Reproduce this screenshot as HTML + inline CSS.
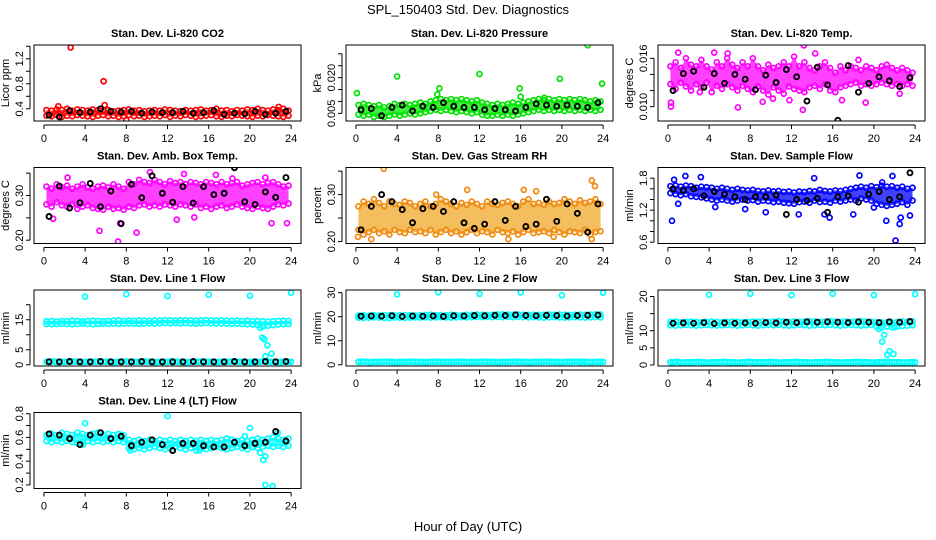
<!DOCTYPE html>
<html><head><meta charset="utf-8"><title>SPL_150403 Std. Dev. Diagnostics</title>
<style>
html,body{margin:0;padding:0;background:#fff;}
svg{display:block;font-family:"Liberation Sans",sans-serif;}
</style></head>
<body>
<svg id="chart" width="936" height="540" viewBox="0 0 936 540" xmlns="http://www.w3.org/2000/svg">
<text x="468" y="14" font-size="13" text-anchor="middle">SPL_150403  Std. Dev. Diagnostics</text>
<text x="468" y="531" font-size="13" text-anchor="middle">Hour of Day (UTC)</text>
</svg>
<script>
const hours48=[0.25,0.75,1.25,1.75,2.25,2.75,3.25,3.75,4.25,4.75,5.25,5.75,6.25,6.75,7.25,7.75,8.25,8.75,9.25,9.75,10.25,10.75,11.25,11.75,12.25,12.75,13.25,13.75,14.25,14.75,15.25,15.75,16.25,16.75,17.25,17.75,18.25,18.75,19.25,19.75,20.25,20.75,21.25,21.75,22.25,22.75,23.25,23.75];
const hours24=[0.5,1.5,2.5,3.5,4.5,5.5,6.5,7.5,8.5,9.5,10.5,11.5,12.5,13.5,14.5,15.5,16.5,17.5,18.5,19.5,20.5,21.5,22.5,23.5];
const xTicks=[0,4,8,12,16,20,24];

const p1Hi=[0.38,0.37,0.39,0.38,0.40,0.37,0.39,0.38,0.37,0.39,0.38,0.37,0.38,0.36,0.37,0.38,0.39,0.37,0.38,0.36,0.37,0.38,0.37,0.39,0.38,0.37,0.36,0.38,0.37,0.38,0.39,0.37,0.38,0.40,0.37,0.38,0.36,0.38,0.37,0.39,0.38,0.40,0.38,0.37,0.39,0.38,0.40,0.37];
const p1Lo=[0.29,0.28,0.30,0.27,0.29,0.28,0.30,0.29,0.28,0.27,0.29,0.30,0.28,0.29,0.27,0.28,0.30,0.28,0.29,0.27,0.28,0.29,0.28,0.30,0.27,0.29,0.28,0.30,0.29,0.27,0.28,0.29,0.30,0.28,0.27,0.29,0.28,0.30,0.29,0.28,0.27,0.29,0.28,0.30,0.29,0.28,0.27,0.29];
const p1OutX=[2.6,5.8,5.9,1.4,8.0,22.8];
const p1OutY=[1.38,0.84,0.46,0.44,0.22,0.43];
const p1Blk=[0.30,0.27,0.37,0.34,0.35,0.40,0.36,0.35,0.36,0.33,0.35,0.34,0.34,0.36,0.33,0.34,0.37,0.31,0.33,0.32,0.36,0.31,0.33,0.36];

const p2Hi=[0.0085,0.0090,0.0085,0.0080,0.0085,0.0075,0.0080,0.0090,0.0085,0.0090,0.0085,0.0090,0.0095,0.0090,0.0100,0.0105,0.0110,0.0105,0.0110,0.0105,0.0110,0.0105,0.0100,0.0105,0.0095,0.0090,0.0085,0.0090,0.0085,0.0090,0.0095,0.0090,0.0095,0.0100,0.0105,0.0110,0.0105,0.0110,0.0105,0.0110,0.0105,0.0110,0.0105,0.0110,0.0105,0.0100,0.0105,0.0100];
const p2Lo=[0.0045,0.0040,0.0045,0.0035,0.0040,0.0035,0.0040,0.0045,0.0040,0.0045,0.0050,0.0045,0.0050,0.0055,0.0060,0.0065,0.0060,0.0065,0.0060,0.0055,0.0060,0.0055,0.0050,0.0055,0.0045,0.0040,0.0040,0.0045,0.0040,0.0045,0.0040,0.0045,0.0050,0.0055,0.0060,0.0065,0.0060,0.0065,0.0060,0.0065,0.0060,0.0065,0.0060,0.0065,0.0060,0.0065,0.0060,0.0065];
const p2OutX=[0.1,4.0,7.9,8.1,12.0,15.9,16.0,19.8,22.5,23.9,18.3];
const p2OutY=[0.0135,0.0205,0.0130,0.0155,0.0215,0.0155,0.0120,0.0195,0.0336,0.0175,0.0115];
const p2Blk=[0.0065,0.0070,0.0040,0.0075,0.0085,0.0060,0.0080,0.0075,0.0095,0.0080,0.0075,0.0075,0.0065,0.0070,0.0065,0.0060,0.0075,0.0090,0.0085,0.0080,0.0085,0.0080,0.0075,0.0095];

const p3Hi=[0.0150,0.0155,0.0148,0.0160,0.0152,0.0150,0.0158,0.0150,0.0146,0.0155,0.0150,0.0160,0.0152,0.0148,0.0155,0.0150,0.0160,0.0150,0.0145,0.0152,0.0148,0.0150,0.0155,0.0150,0.0162,0.0150,0.0155,0.0148,0.0145,0.0150,0.0155,0.0148,0.0142,0.0150,0.0145,0.0150,0.0148,0.0145,0.0150,0.0148,0.0145,0.0150,0.0152,0.0148,0.0145,0.0148,0.0145,0.0142];
const p3Lo=[0.0128,0.0122,0.0130,0.0125,0.0120,0.0128,0.0124,0.0130,0.0118,0.0126,0.0122,0.0128,0.0124,0.0120,0.0126,0.0122,0.0118,0.0125,0.0120,0.0115,0.0124,0.0120,0.0116,0.0125,0.0122,0.0120,0.0118,0.0124,0.0126,0.0122,0.0128,0.0120,0.0118,0.0124,0.0126,0.0128,0.0130,0.0126,0.0128,0.0126,0.0128,0.0130,0.0128,0.0126,0.0128,0.0126,0.0128,0.0126];
const p3OutX=[0.3,0.3,6.8,13.1,13.2,1.0,5.8,10.2,11.8,14.3,16.9,18.5,19.2,3.1,22.5,4.5,9.2];
const p3OutY=[0.0105,0.0100,0.0099,0.0096,0.0176,0.0167,0.0166,0.0110,0.0108,0.0166,0.0108,0.0158,0.0105,0.0118,0.0116,0.0167,0.0106];
const p3Blk=[0.0120,0.0141,0.0144,0.0124,0.0141,0.0129,0.0140,0.0134,0.0121,0.0139,0.0130,0.0146,0.0137,0.0107,0.0149,0.0127,0.0083,0.0151,0.0118,0.0129,0.0137,0.0132,0.0125,0.0136];

const p4Hi=[0.320,0.315,0.325,0.318,0.322,0.315,0.320,0.325,0.318,0.315,0.320,0.322,0.318,0.325,0.320,0.315,0.330,0.325,0.335,0.330,0.328,0.335,0.330,0.325,0.332,0.328,0.330,0.325,0.330,0.328,0.325,0.330,0.328,0.325,0.330,0.325,0.328,0.330,0.322,0.325,0.328,0.330,0.325,0.328,0.330,0.325,0.320,0.322];
const p4Lo=[0.280,0.275,0.285,0.278,0.275,0.280,0.270,0.275,0.278,0.272,0.270,0.268,0.275,0.270,0.272,0.268,0.275,0.272,0.278,0.280,0.275,0.278,0.275,0.280,0.278,0.275,0.280,0.278,0.275,0.280,0.272,0.275,0.270,0.275,0.278,0.272,0.275,0.280,0.275,0.272,0.270,0.275,0.272,0.270,0.275,0.280,0.278,0.282];
const p4OutX=[5.4,7.2,9.0,10.3,13.6,7.4,12.9,16.7,22.1,23.6,2.3,0.9,14.6,18.3,21.5];
const p4OutY=[0.221,0.197,0.217,0.352,0.348,0.238,0.246,0.346,0.238,0.238,0.340,0.248,0.251,0.338,0.340];
const p4Blk=[0.253,0.321,0.272,0.284,0.327,0.275,0.310,0.237,0.325,0.295,0.344,0.305,0.285,0.320,0.283,0.320,0.302,0.305,0.362,0.286,0.280,0.308,0.296,0.340];

const p5Hi=[0.275,0.285,0.280,0.290,0.282,0.275,0.285,0.280,0.278,0.285,0.282,0.275,0.280,0.285,0.275,0.280,0.290,0.285,0.280,0.275,0.282,0.278,0.285,0.280,0.275,0.285,0.280,0.278,0.282,0.285,0.280,0.275,0.285,0.290,0.280,0.282,0.278,0.285,0.280,0.282,0.290,0.285,0.280,0.288,0.282,0.285,0.290,0.280];
const p5Lo=[0.225,0.215,0.220,0.225,0.218,0.222,0.215,0.225,0.220,0.218,0.225,0.220,0.222,0.218,0.225,0.215,0.220,0.225,0.218,0.222,0.215,0.220,0.225,0.218,0.222,0.220,0.215,0.225,0.220,0.218,0.222,0.215,0.220,0.225,0.218,0.220,0.222,0.218,0.225,0.220,0.215,0.222,0.220,0.218,0.225,0.215,0.220,0.222];
const p5OutX=[2.7,10.8,22.9,22.9,0.2,1.5,16.3,17.5,23.2,7.8,19.2,14.8];
const p5OutY=[0.355,0.310,0.330,0.205,0.210,0.205,0.310,0.307,0.318,0.300,0.210,0.205];
const p5Blk=[0.225,0.275,0.300,0.285,0.268,0.240,0.270,0.275,0.264,0.285,0.240,0.228,0.237,0.285,0.245,0.275,0.232,0.237,0.290,0.243,0.280,0.260,0.220,0.280];

const p6Hi=[1.65,1.66,1.64,1.66,1.65,1.62,1.64,1.63,1.62,1.60,1.62,1.60,1.58,1.60,1.58,1.57,1.58,1.56,1.55,1.57,1.55,1.56,1.54,1.55,1.53,1.55,1.54,1.56,1.55,1.58,1.56,1.55,1.57,1.56,1.58,1.60,1.62,1.64,1.62,1.65,1.63,1.66,1.64,1.65,1.62,1.64,1.60,1.62];
const p6Lo=[1.52,1.50,1.48,1.50,1.46,1.45,1.44,1.42,1.40,1.38,1.40,1.38,1.36,1.38,1.40,1.38,1.39,1.36,1.38,1.37,1.35,1.36,1.34,1.33,1.32,1.35,1.36,1.34,1.38,1.35,1.36,1.34,1.38,1.36,1.38,1.40,1.38,1.42,1.40,1.38,1.32,1.30,1.28,1.30,1.32,1.35,1.30,1.38];
const p6OutX=[0.4,0.6,1.7,3.2,9.5,14.2,18.6,21.2,22.1,22.5,21.8,15.2,15.7,12.7,18.0,20.8,23.5,1.0,4.6,7.5,22.6,20.0];
const p6OutY=[1.00,1.77,1.84,1.82,1.16,1.80,1.85,1.00,0.63,0.94,1.84,1.12,1.06,1.12,1.12,1.72,1.10,1.32,1.26,1.22,1.06,1.25];
const p6Blk=[1.60,1.57,1.60,1.47,1.55,1.50,1.45,1.40,1.45,1.45,1.48,1.12,1.40,1.38,1.42,1.16,1.45,1.47,1.35,1.50,1.55,1.40,1.45,1.90];

const p7Hi=[14.5,14.6,14.4,14.6,14.5,14.7,14.6,14.5,14.6,14.7,14.6,14.5,14.6,14.7,14.8,14.6,14.7,14.6,14.8,14.7,14.6,14.8,14.7,14.9,14.8,14.7,14.8,14.9,14.8,14.7,14.8,14.9,14.8,14.7,14.8,14.7,14.6,14.7,14.6,14.7,14.5,14.6,14.5,14.4,14.5,14.6,14.7,14.6];
const p7Lo=[13.6,13.5,13.6,13.7,13.6,13.5,13.6,13.7,13.6,13.5,13.6,13.7,13.6,13.7,13.6,13.7,13.8,13.7,13.6,13.7,13.8,13.7,13.8,13.9,13.8,13.9,13.8,13.9,13.8,13.7,13.8,13.9,13.8,13.7,13.8,13.7,13.6,13.7,13.6,13.5,13.4,13.2,12.8,13.0,13.2,13.4,13.5,13.6];
const p7Base=[1.0,1.1,0.9,1.0,1.0,1.1,1.0,0.9,1.0,1.0,1.1,1.0,1.0,0.9,1.0,1.1,1.0,1.0,1.0,1.1,1.0,0.9,1.0,1.0,1.1,1.0,1.0,0.9,1.0,1.0,1.1,1.0,1.0,0.9,1.0,1.0,1.1,1.0,1.0,0.9,1.0,1.0,1.1,1.0,1.0,0.9,1.0,1.0];
const p7OutX=[4,8,12,16,20,24,21.0,21.2,21.4,21.7,21.5,22.1,20.3];
const p7OutY=[22.7,23.5,22.9,23.3,23.0,24.0,12.3,9.0,8.5,6.5,2.8,3.7,0.2];
const p7Blk=[1.0,1.0,1.1,1.0,1.0,1.1,1.0,1.0,1.0,1.1,1.0,1.0,1.0,1.0,1.1,1.0,1.0,1.0,1.1,1.0,1.0,1.1,1.0,1.1];

const p8Hi=[20.5,20.6,20.4,20.6,20.5,20.7,20.6,20.5,20.6,20.7,20.6,20.5,20.6,20.7,20.8,20.6,20.7,20.6,20.8,20.7,20.6,20.8,20.7,20.9,20.8,20.7,20.8,20.9,21.0,20.9,20.8,20.9,20.8,20.7,20.8,20.7,20.8,20.9,20.8,20.9,20.8,20.7,20.8,20.9,20.8,20.9,21.0,20.9];
const p8Lo=[19.6,19.5,19.6,19.7,19.6,19.5,19.4,19.7,19.6,19.5,19.6,19.7,19.6,19.7,19.6,19.7,19.8,19.7,19.6,19.7,19.8,19.7,19.8,19.9,19.8,19.9,19.8,19.9,19.8,19.9,19.8,19.9,19.8,19.7,19.8,19.7,19.6,19.7,19.8,19.7,19.6,19.7,19.8,19.7,19.6,19.7,19.8,19.7];
const p8Base=[1.2,1.3,1.1,1.2,1.2,1.3,1.2,1.1,1.2,1.2,1.3,1.2,1.2,1.1,1.2,1.3,1.2,1.2,1.2,1.3,1.2,1.1,1.2,1.2,1.3,1.2,1.2,1.1,1.2,1.2,1.3,1.2,1.2,1.1,1.2,1.2,1.3,1.2,1.2,1.1,1.2,1.2,1.3,1.2,1.2,1.1,1.2,1.2];
const p8OutX=[4,8,12,16,20,24,22.0];
const p8OutY=[29.3,30.2,29.5,30.1,28.9,30.0,0.1];
const p8Blk=[20.2,20.3,20.2,20.4,20.1,20.3,20.2,20.3,20.1,20.4,20.3,20.5,20.4,20.6,20.5,20.8,20.5,20.4,20.6,20.5,20.3,20.5,20.6,20.7];

const p9Hi=[12.6,12.7,12.5,12.6,12.7,12.6,12.5,12.6,12.7,12.6,12.5,12.6,12.7,12.6,12.5,12.6,12.7,12.6,12.7,12.6,12.7,12.8,12.7,12.6,12.7,12.6,12.7,12.8,12.7,12.6,12.7,12.8,12.7,12.6,12.7,12.6,12.7,12.8,12.7,12.6,12.5,12.4,12.5,12.4,12.6,12.7,12.6,12.7];
const p9Lo=[11.6,11.5,11.6,11.7,11.6,11.5,11.6,11.7,11.6,11.5,11.6,11.7,11.6,11.5,11.6,11.7,11.6,11.5,11.6,11.7,11.6,11.7,11.6,11.5,11.6,11.7,11.6,11.5,11.6,11.7,11.6,11.7,11.6,11.5,11.6,11.7,11.6,11.5,11.6,11.7,11.2,11.0,11.2,11.0,11.2,11.4,11.5,11.6];
const p9Base=[0.8,0.9,0.7,0.8,0.8,0.9,0.8,0.7,0.8,0.8,0.9,0.8,0.8,0.7,0.8,0.9,0.8,0.8,0.8,0.9,0.8,0.7,0.8,0.8,0.9,0.8,0.8,0.7,0.8,0.8,0.9,0.8,0.8,0.7,0.8,0.8,0.9,0.8,0.8,0.7,0.8,0.8,0.9,0.8,0.8,0.7,0.8,0.8];
const p9OutX=[4,8,12,16,20,24,20.5,20.8,21.0,21.3,21.5,21.9,22.0,20.1];
const p9OutY=[20.5,20.8,20.4,20.8,20.4,20.7,10.5,6.8,8.8,3.0,4.0,3.2,11.0,0.1];
const p9Blk=[12.2,12.3,12.2,12.4,12.1,12.3,12.2,12.3,12.2,12.4,12.3,12.5,12.4,12.6,12.5,12.6,12.5,12.4,12.6,12.5,12.4,12.6,12.5,12.7];

const p10Hi=[0.62,0.63,0.62,0.64,0.63,0.62,0.64,0.63,0.62,0.63,0.64,0.62,0.63,0.62,0.63,0.62,0.58,0.57,0.58,0.57,0.58,0.57,0.58,0.57,0.58,0.57,0.58,0.57,0.58,0.57,0.58,0.57,0.58,0.57,0.58,0.59,0.58,0.57,0.58,0.57,0.58,0.59,0.58,0.59,0.60,0.59,0.58,0.59];
const p10Lo=[0.57,0.56,0.57,0.56,0.57,0.56,0.55,0.56,0.57,0.56,0.57,0.56,0.57,0.56,0.57,0.56,0.51,0.50,0.51,0.50,0.51,0.52,0.51,0.50,0.51,0.52,0.51,0.50,0.51,0.52,0.51,0.50,0.51,0.52,0.51,0.50,0.51,0.52,0.51,0.50,0.52,0.51,0.52,0.53,0.52,0.53,0.52,0.53];
const p10OutX=[4,12,20,21.5,22.2,21.3,21.5,21.0,14.8,15.1,8.4,3.8,19.5,22.7];
const p10OutY=[0.72,0.78,0.68,0.20,0.19,0.41,0.44,0.47,0.49,0.49,0.49,0.54,0.61,0.64];
const p10Blk=[0.63,0.62,0.59,0.54,0.62,0.64,0.59,0.61,0.53,0.56,0.58,0.54,0.49,0.55,0.55,0.53,0.52,0.52,0.56,0.53,0.55,0.56,0.65,0.57];

const panels=[
 {name:'co2',title:'Stan. Dev. Li-820 CO2',ylab:'Licor ppm',col:0,row:0,ymin:0.205,ymax:1.42,ticks:[0.4,0.6,0.8,1.0,1.2,1.4],labels:['0.4','0.8','1.2'],color:'#ff0000',fill:'#ff0000',hi:p1Hi,lo:p1Lo,ox:p1OutX,oy:p1OutY,blk:p1Blk},
 {name:'pressure',title:'Stan. Dev. Li-820 Pressure',ylab:'kPa',col:1,row:0,ymin:0.0018,ymax:0.0337,ticks:[0.005,0.010,0.015,0.020,0.025,0.030],labels:['0.005','0.020'],color:'#00e000',fill:'#00ee00',hi:p2Hi,lo:p2Lo,ox:p2OutX,oy:p2OutY,blk:p2Blk},
 {name:'li820-temp',title:'Stan. Dev. Li-820 Temp.',ylab:'degrees C',col:2,row:0,ymin:0.00822,ymax:0.01765,ticks:[0.010,0.012,0.014,0.016],labels:['0.010','0.016'],color:'#ff00ff',fill:'#ff00ff',hi:p3Hi,lo:p3Lo,ox:p3OutX,oy:p3OutY,blk:p3Blk},
 {name:'amb-box-temp',title:'Stan. Dev. Amb. Box Temp.',ylab:'degrees C',col:0,row:1,ymin:0.1926,ymax:0.3626,ticks:[0.20,0.25,0.30,0.35],labels:['0.20','0.30'],color:'#ff00ff',fill:'#ff00ff',hi:p4Hi,lo:p4Lo,ox:p4OutX,oy:p4OutY,blk:p4Blk},
 {name:'gas-rh',title:'Stan. Dev. Gas Stream RH',ylab:'percent',col:1,row:1,ymin:0.1958,ymax:0.3577,ticks:[0.20,0.25,0.30,0.35],labels:['0.20','0.30'],color:'#f08a10',fill:'#f0a828',hi:p5Hi,lo:p5Lo,ox:p5OutX,oy:p5OutY,blk:p5Blk},
 {name:'sample-flow',title:'Stan. Dev. Sample Flow',ylab:'ml/min',col:2,row:1,ymin:0.575,ymax:2.0,ticks:[0.6,0.8,1.0,1.2,1.4,1.6,1.8],labels:['0.6','1.2','1.8'],color:'#0000ff',fill:'#0000ff',hi:p6Hi,lo:p6Lo,ox:p6OutX,oy:p6OutY,blk:p6Blk},
 {name:'line1-flow',title:'Stan. Dev. Line 1 Flow',ylab:'ml/min',col:0,row:2,ymin:-0.4,ymax:24.9,ticks:[0,5,10,15,20],labels:['0','5','15'],color:'#00ffff',fill:'#00ffff',hi:p7Hi,lo:p7Lo,base:p7Base,ox:p7OutX,oy:p7OutY,blk:p7Blk},
 {name:'line2-flow',title:'Stan. Dev. Line 2 Flow',ylab:'ml/min',col:1,row:2,ymin:-0.5,ymax:31.1,ticks:[0,10,20,30],labels:['0','10','20','30'],color:'#00ffff',fill:'#00ffff',hi:p8Hi,lo:p8Lo,base:p8Base,ox:p8OutX,oy:p8OutY,blk:p8Blk},
 {name:'line3-flow',title:'Stan. Dev. Line 3 Flow',ylab:'ml/min',col:2,row:2,ymin:-0.3,ymax:21.9,ticks:[0,5,10,15,20],labels:['0','5','10','20'],color:'#00ffff',fill:'#00ffff',hi:p9Hi,lo:p9Lo,base:p9Base,ox:p9OutX,oy:p9OutY,blk:p9Blk},
 {name:'line4-flow',title:'Stan. Dev. Line 4 (LT) Flow',ylab:'ml/min',col:0,row:3,ymin:0.17,ymax:0.81,ticks:[0.2,0.3,0.4,0.5,0.6,0.7,0.8],labels:['0.2','0.4','0.6','0.8'],color:'#00ffff',fill:'#00ffff',hi:p10Hi,lo:p10Lo,ox:p10OutX,oy:p10OutY,blk:p10Blk}
];

const NS='http://www.w3.org/2000/svg';
const svg=document.getElementById('chart');
function mk(tag,attrs,parent){const e=document.createElementNS(NS,tag);for(const k in attrs)e.setAttribute(k,attrs[k]);parent.appendChild(e);return e;}

panels.forEach(p=>{
  const L=34+312*p.col, R=L+267, T=45+122.5*p.row, B=T+76;
  const sx=v=>L+(v+0.96)/25.92*(R-L);
  const sy=v=>B-(v-p.ymin)/(p.ymax-p.ymin)*(B-T);
  const g=mk('g',{},svg);
  
  
  const t=mk('text',{x:(L+R)/2,y:T-8,'font-size':11,'font-weight':'bold','text-anchor':'middle'},g);
  t.textContent=p.title;
  
  
  const cid='clip'+p.name;
  const cp=mk('clipPath',{id:cid},g);
  mk('rect',{x:L,y:T,width:R-L,height:B-T},cp);
  const pts=mk('g',{'clip-path':'url(#'+cid+')'},g);
  
  
  let d='M'+hours48.map((h,i)=>sx(h)+','+sy(p.hi[i])).join(' L');
  for(let i=hours48.length-1;i>=0;i--) d+=' L'+sx(hours48[i])+','+sy(p.lo[i]);
  const band=mk('path',{d:d+'Z',fill:p.fill,opacity:0.75},pts);
  
  
  const circ=(x,y,col,w,nm)=>{const c=mk('circle',{cx:sx(x),cy:sy(y),r:2.5,fill:'none',stroke:col,'stroke-width':w},pts);
    
    };
  hours48.forEach((h,i)=>{circ(h,p.hi[i],p.color,1.7,'point-high');circ(h,p.lo[i],p.color,1.7,'point-low');});
  if(p.base) hours48.forEach((h,i)=>{circ(h,p.base[i],p.color,1.7,'point-base');circ(h+0.25,p.base[i],p.color,1.7,'point-base');});
  p.ox.forEach((x,i)=>circ(x,p.oy[i],p.color,1.7,'point-outlier'));
  hours24.forEach((h,i)=>circ(h,p.blk[i],'#000',1.9,'point-hourly'));
  const box=mk('rect',{x:L,y:T,width:R-L,height:B-T,fill:'none',stroke:'#000','stroke-width':1},g);
  
  
  const ax=mk('g',{},g);
  
  
  mk('line',{x1:sx(0),x2:sx(24),y1:B+4,y2:B+4,stroke:'#000'},ax);
  xTicks.forEach(v=>{mk('line',{x1:sx(v),x2:sx(v),y1:B+4,y2:B+8,stroke:'#000'},ax);
    const tl=mk('text',{x:sx(v),y:B+21,'font-size':11,'text-anchor':'middle'},ax);tl.textContent=v;
    
    });
  const ay=mk('g',{},g);
  
  
  const tk=p.ticks;
  mk('line',{x1:L-4,x2:L-4,y1:sy(tk[0]),y2:sy(tk[tk.length-1]),stroke:'#000'},ay);
  tk.forEach(v=>mk('line',{x1:L-8,x2:L-4,y1:sy(v),y2:sy(v),stroke:'#000'},ay));
  p.labels.forEach(s=>{const yy=sy(parseFloat(s));const tl=mk('text',{x:L-11,y:yy,'font-size':11,'text-anchor':'middle',transform:'rotate(-90 '+(L-11)+' '+yy+')'},ay);tl.textContent=s;
    
    });
  const yl=mk('text',{x:L-25,y:(T+B)/2,'font-size':11,'text-anchor':'middle',transform:'rotate(-90 '+(L-25)+' '+((T+B)/2)+')'},ay);
  yl.textContent=p.ylab;
  
  
});
</script>
</body></html>
